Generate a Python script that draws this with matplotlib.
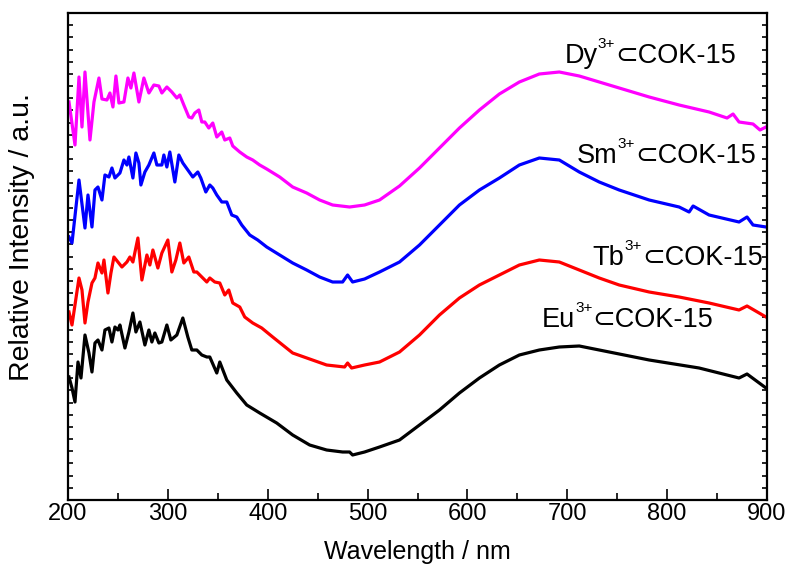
#==================================================================================================================#
# REQUIRED MODULES
#==================================================================================================================#

import matplotlib                                                    # comprehensive library for creating visualizations
matplotlib.use('Agg')
import matplotlib.pyplot as plt                                      # plotting library
from matplotlib.ticker import MultipleLocator, NullFormatter         # tick control
from matplotlib import font_manager                                  # check installed fonts

#==================================================================================================================#
# DATA
#==================================================================================================================#

# Dy3+ (magenta)
dy_wl = [201, 207, 211, 214, 217, 222, 226, 231, 234, 239, 242, 245, 248, 251, 256, 260, 263, 266, 271, 276,
         281, 286, 291, 294, 299, 304, 309, 312, 316, 321, 324, 327, 331, 334, 337, 341, 345, 349, 354, 357,
         362, 365, 372, 379, 385, 392, 399, 412, 425, 439, 452, 465, 482, 497, 512, 532, 552, 572, 592, 612,
         632, 652, 672, 692, 712, 732, 752, 782, 812, 842, 860, 866, 872, 886, 893, 899]
dy_int = [398, 355, 423, 373, 428, 360, 398, 422, 401, 400, 407, 393, 424, 397, 398, 422, 412, 427, 398, 422,
          407, 415, 414, 407, 413, 408, 402, 405, 395, 383, 382, 387, 390, 378, 378, 372, 377, 363, 368, 360,
          362, 354, 348, 343, 340, 335, 331, 323, 313, 307, 300, 295, 293, 295, 300, 314, 332, 352, 372, 390,
          406, 418, 426, 428, 424, 418, 412, 403, 395, 388, 382, 386, 378, 376, 370, 373]

# Sm3+ (blue)
sm_wl = [201, 204, 211, 217, 220, 224, 227, 230, 234, 237, 241, 244, 247, 252, 256, 259, 261, 265, 268, 271,
         273, 277, 281, 286, 289, 294, 296, 299, 302, 307, 311, 315, 320, 325, 330, 333, 338, 342, 345, 349,
         354, 359, 364, 369, 374, 382, 390, 399, 412, 425, 439, 452, 465, 475, 480, 485, 497, 512, 532, 552,
         572, 592, 612, 632, 652, 672, 692, 712, 732, 752, 782, 812, 822, 826, 842, 872, 880, 886, 899]
sm_int = [263, 257, 320, 272, 305, 273, 310, 313, 300, 325, 323, 332, 322, 327, 340, 335, 343, 322, 347, 337,
          315, 328, 335, 347, 335, 335, 345, 333, 348, 318, 345, 337, 330, 323, 328, 322, 308, 315, 312, 305,
          298, 298, 285, 283, 275, 265, 260, 253, 245, 237, 230, 223, 218, 218, 225, 218, 221, 228, 238, 255,
          275, 295, 310, 322, 335, 342, 340, 328, 318, 310, 300, 293, 288, 294, 285, 278, 283, 275, 273]

# Tb3+ (red)
tb_wl = [201, 204, 211, 214, 217, 220, 224, 227, 230, 234, 236, 240, 243, 246, 250, 254, 259, 262, 265, 270,
         274, 279, 282, 285, 290, 294, 300, 304, 308, 312, 316, 321, 326, 329, 334, 339, 342, 347, 352, 357,
         361, 365, 372, 377, 385, 394, 405, 425, 459, 477, 480, 484, 497, 512, 532, 552, 572, 592, 612, 632,
         652, 672, 692, 712, 732, 752, 782, 812, 842, 872, 880, 899]
tb_int = [188, 175, 222, 210, 177, 198, 217, 222, 237, 227, 240, 207, 227, 243, 238, 233, 238, 243, 238, 262,
          220, 245, 235, 250, 232, 247, 260, 228, 240, 257, 237, 243, 228, 228, 223, 218, 222, 218, 217, 205,
          210, 197, 193, 183, 177, 172, 163, 147, 135, 133, 137, 132, 135, 138, 148, 165, 185, 202, 215, 225,
          235, 240, 238, 230, 222, 215, 208, 203, 197, 190, 194, 183]

# Eu3+ (black)
eu_wl = [201, 204, 207, 210, 213, 217, 221, 224, 227, 230, 234, 237, 241, 244, 247, 250, 252, 257, 261, 265,
         268, 272, 277, 281, 284, 287, 291, 294, 299, 303, 309, 315, 320, 324, 329, 334, 339, 342, 349, 352,
         359, 369, 379, 392, 409, 425, 442, 459, 475, 482, 485, 497, 512, 532, 552, 572, 592, 612, 632, 652,
         672, 692, 712, 732, 782, 832, 872, 880, 899]
eu_int = [123, 112, 98, 138, 122, 165, 147, 128, 157, 160, 150, 170, 172, 158, 173, 170, 175, 152, 168, 187,
          168, 178, 155, 170, 158, 167, 157, 158, 175, 160, 165, 182, 163, 150, 150, 145, 143, 143, 127, 138,
          120, 107, 95, 87, 77, 65, 55, 50, 48, 48, 45, 48, 53, 60, 75, 90, 107, 122, 135, 145,
          150, 153, 154, 150, 140, 132, 122, 126, 112]

labels = ['Dy', 'Sm', 'Tb', 'Eu']
colors = ['#ff00ff', '#0000ff', '#ff0000', '#000000']

# label anchors (left edge, baseline) in data units
label_x = [697, 709, 725, 674]
label_y = [437, 337, 235, 173]

#==================================================================================================================#
# FONTS
#==================================================================================================================#

installed = {f.name for f in font_manager.fontManager.ttflist}
tick_font = 'Liberation Sans Narrow' if 'Liberation Sans Narrow' in installed else 'Liberation Sans'

plt.rcParams['font.family'] = ['Liberation Sans', 'DejaVu Sans']

#==================================================================================================================#
# CREATE THE PLOT
#==================================================================================================================#

fig = plt.figure(figsize=(7.92, 5.67), dpi=100)
ax = fig.add_axes([68/792, 1 - 500/567, (767 - 68)/792, (500 - 13)/567])

for wl, inten, col in zip([dy_wl, sm_wl, tb_wl, eu_wl], [dy_int, sm_int, tb_int, eu_int], colors):
    ax.plot(wl, inten, color=col, linewidth=2.3, solid_joinstyle='round')

# axis limits and ticks
ax.set_xlim(200, 900)
ax.set_ylim(0, 487)
ax.xaxis.set_major_locator(MultipleLocator(100))
ax.xaxis.set_minor_locator(MultipleLocator(50))
ax.yaxis.set_major_locator(MultipleLocator(487/40))
ax.yaxis.set_major_formatter(NullFormatter())
ax.tick_params(axis='x', which='major', direction='in', length=8, width=1.2, pad=2, top=False)
ax.tick_params(axis='x', which='minor', direction='in', length=5, width=1.2, top=False)
ax.tick_params(axis='y', which='major', direction='in', length=3.5, width=1.2, left=True, right=True)
for t in ax.get_xticklabels():
    t.set_fontfamily(tick_font)
    t.set_fontsize(17)

for sp in ax.spines.values():
    sp.set_linewidth(1.6)

# curve labels: element + raised "3+" + "⊂COK-15", placed piece by piece
renderer = fig.canvas.get_renderer()
for lab, x, y in zip(labels, label_x, label_y):
    t1 = ax.text(x, y, lab, fontsize=19.5, ha='left', va='baseline')
    w1 = t1.get_window_extent(renderer).width
    t2 = ax.annotate('3+', xy=(x, y), xytext=(w1 + 0.5, 15), textcoords='offset pixels',
                     fontsize=11, ha='left', va='baseline')
    w2 = t2.get_window_extent(renderer).width
    ax.annotate('\u2282COK-15', xy=(x, y), xytext=(w1 + w2 + 0.5, 0), textcoords='offset pixels',
                fontsize=19.5, ha='left', va='baseline')

# axis titles
ax.set_xlabel('Wavelength / nm', fontsize=18)
ax.set_ylabel('Relative Intensity / a.u.', fontsize=20.5)
ax.xaxis.set_label_coords(0.5, -0.082)
ax.yaxis.set_label_coords(-0.047, 0.54)

#==================================================================================================================#
# SAVE THE PLOT
#==================================================================================================================#

plt.savefig('out.png', dpi=100)
